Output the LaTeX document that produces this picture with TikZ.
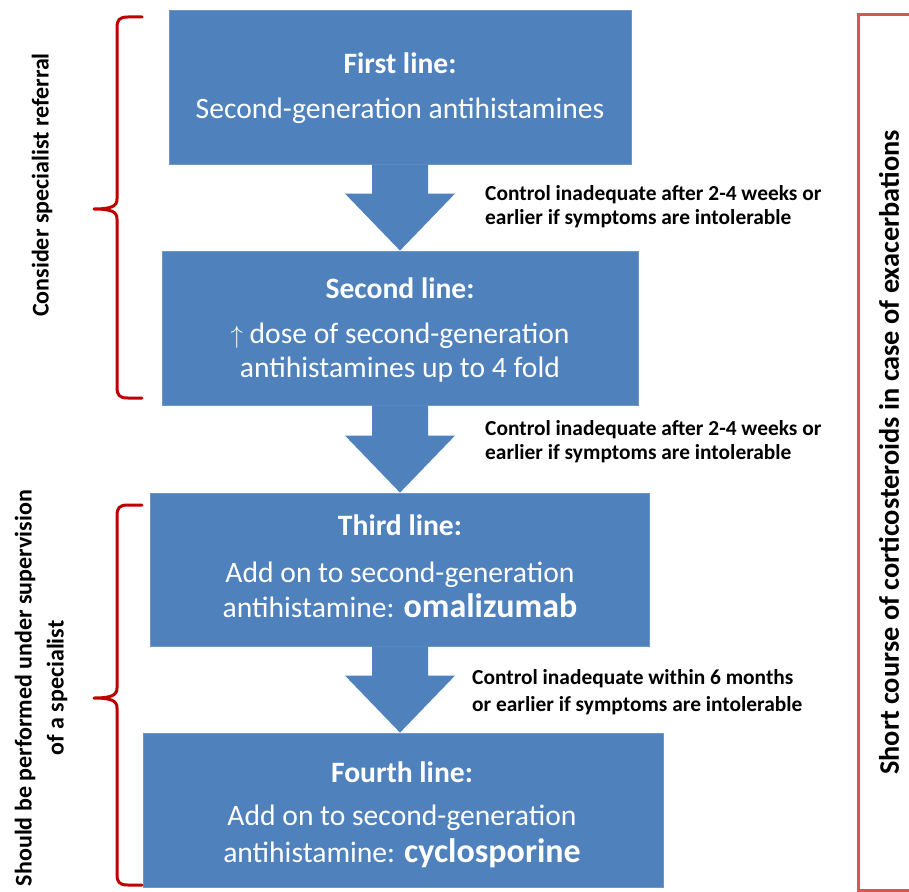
\documentclass[tikz,border=0pt]{standalone}
\usepackage{fontspec}
\setmainfont{Carlito}
\usetikzlibrary{calc}
\definecolor{boxblue}{RGB}{79,129,189}
\definecolor{boxedge}{RGB}{110,150,200}
\definecolor{bracered}{RGB}{192,0,0}
\definecolor{framered}{RGB}{215,85,85}
\newcommand\flowarrow[2]{%
  \fill[boxblue] ([xshift=-28pt]#1.south -| ax)
    -- ([xshift=-28pt,yshift=57pt]#2.north -| ax)
    -- ([xshift=-55pt,yshift=57pt]#2.north -| ax)
    -- (#2.north -| ax)
    -- ([xshift=55pt,yshift=57pt]#2.north -| ax)
    -- ([xshift=28pt,yshift=57pt]#2.north -| ax)
    -- ([xshift=28pt]#1.south -| ax) -- cycle;}
\newcommand\drug[1]{{\bfseries\fontsize{34}{36}\selectfont #1}}
\begin{document}
\begin{tikzpicture}[x=1pt,y=-1pt,
  stepbox/.style={rectangle, fill=boxblue, draw=boxedge, line width=0.8pt, inner sep=0pt},
  boxline/.style={anchor=base, inner sep=0pt, text=white,
    font=\fontsize{29.6}{34}\selectfont},
  boxtitle/.style={boxline, font=\bfseries\fontsize{29.6}{34}\selectfont},
  lbl/.style={anchor=west, align=left, inner sep=0pt, text=black,
    font=\bfseries\fontsize{21.4}{24}\selectfont},
  sidetext/.style={rotate=90, align=center, inner sep=0pt, text=black,
    font=\bfseries\fontsize{24}{32}\selectfont},
  bracepath/.style={draw=bracered, line width=3pt, line cap=round, line join=round}]
\useasboundingbox (0,0) rectangle (909,891);
\coordinate (ax) at (400,0);

% boxes
\node[stepbox, minimum width=462pt, minimum height=154pt] (b1) at (400,87) {};
\node[stepbox, minimum width=476pt, minimum height=154pt] (b2) at (400,328) {};
\node[stepbox, minimum width=499pt, minimum height=153pt] (b3) at (399.5,569.5) {};
\node[stepbox, minimum width=520pt, minimum height=154pt] (b4) at (403,810) {};

% box texts
\node[boxtitle] (b1h) at (400,73) {First line:};
\node[boxline]  (b1a) at (400,118) {Second-generation antihistamines};
\node[boxtitle] (b2h) at (400,298) {Second line:};
\node[boxline]  (b2a) at (400,343) {$\uparrow$ dose of second-generation};
\node[boxline]  (b2b) at (400,377) {antihistamines up to 4 fold};
\node[boxtitle] (b3h) at (400,535) {Third line:};
\node[boxline]  (b3a) at (400,582) {Add on to second-generation};
\node[boxline]  (b3b) at (400,617) {antihistamine: \drug{omalizumab}};
\node[boxtitle] (b4h) at (402,782) {Fourth line:};
\node[boxline]  (b4a) at (402,825) {Add on to second-generation};
\node[boxline]  (b4b) at (402,862) {antihistamine: \drug{cyclosporine}};

% arrows
\flowarrow{b1}{b2}
\flowarrow{b2}{b3}
\flowarrow{b3}{b4}

\node[lbl] (l1) at (485,207) {Control inadequate after 2-4 weeks or\\earlier if symptoms are intolerable};
\node[lbl] (l2) at (485,442) {Control inadequate after 2-4 weeks or\\earlier if symptoms are intolerable};
\node[lbl, font=\bfseries\fontsize{21.4}{26.5}\selectfont] (l3) at (472,692)
  {Control inadequate within 6 months\\or earlier if symptoms are intolerable};

% braces
\path[bracepath] (142,17) -- (128,17) .. controls (119,17) and (117,20) .. (117,28)
  -- (117,199) .. controls (117,206) and (112,209) .. (94,209)
  .. controls (112,209) and (117,212) .. (117,219)
  -- (117,387) .. controls (117,395) and (119,398) .. (128,398) -- (142,398);
\path[bracepath] (142,505) -- (128,505) .. controls (119,505) and (117,508) .. (117,516)
  -- (117,688) .. controls (117,695) and (112,698) .. (94,698)
  .. controls (112,698) and (117,701) .. (117,708)
  -- (117,874) .. controls (117,882) and (119,885) .. (128,885) -- (142,885);

\node[sidetext] (t1) at (42,185) {Consider specialist referral};
\node[sidetext] (t2) at (41,688) {Should be performed under supervision\\of a specialist};

% right frame
\draw[framered, line width=3pt] (915,15) -- (858,15) -- (858,890) -- (915,890);
\node[sidetext, font=\bfseries\fontsize{28.3}{32}\selectfont] (t3) at (889,452.5)
  {Short course of corticosteroids in case of exacerbations};
\end{tikzpicture}
\end{document}
